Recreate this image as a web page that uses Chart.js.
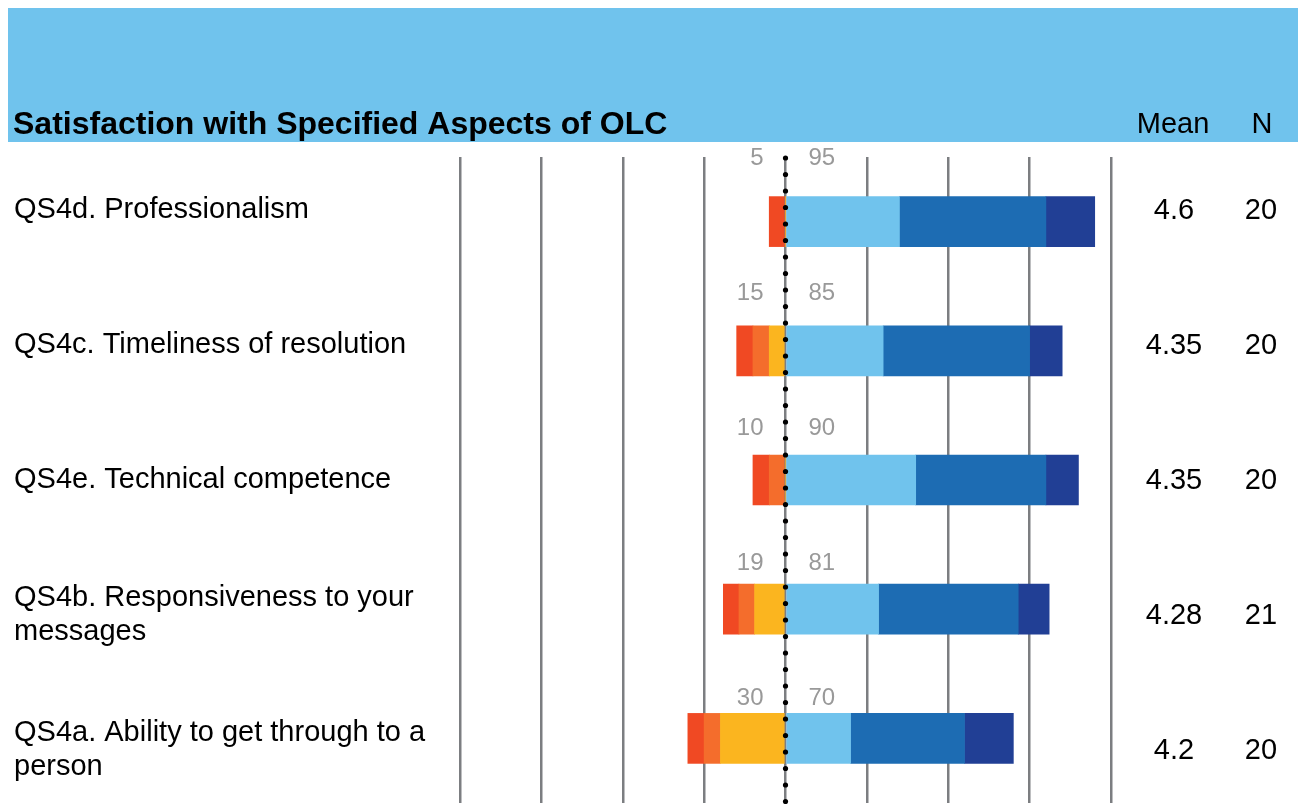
<!DOCTYPE html>
<html>
<head>
<meta charset="utf-8">
<script src="https://cdn.jsdelivr.net/npm/chart.js@4"></script>
<style>
    body { margin: 0; background: #fff; }
    #wrap { width: 1298px; height: 804px; position: relative; }
</style>
</head>
<body>
<div id="wrap"><canvas id="olcChart"></canvas></div>
<script>
// Datos del gráfico (porcentajes por nivel de satisfacción)
const categories = [
    ['QS4d. Professionalism'],
    ['QS4c. Timeliness of resolution'],
    ['QS4e. Technical competence'],
    ['QS4b. Responsiveness to your', 'messages'],
    ['QS4a. Ability to get through to a', 'person']
];
const level1 = [5, 5, 5, 4.8, 5];
const level2 = [0, 5, 5, 4.8, 5];
const level3 = [0, 5, 0, 9.5, 20];
const level4 = [35, 30, 40, 28.6, 20];
const level5 = [45, 45, 40, 42.9, 35];
const level6 = [15, 10, 10, 9.5, 15];
const negLabels = ['5', '15', '10', '19', '30'];
const posLabels = ['95', '85', '90', '81', '70'];
const means = ['4.6', '4.35', '4.35', '4.28', '4.2'];
const counts = ['20', '20', '20', '21', '20'];

const neg = arr => arr.map(v => -v);
const FONT = '"Liberation Sans", Arial, sans-serif';

// Cabecera, etiquetas y línea punteada en cero
const overlayPlugin = {
    id: 'overlay',
    beforeDraw(chart) {
        const ctx = chart.ctx;
        ctx.save();
        ctx.fillStyle = '#70c3ed';
        ctx.fillRect(8, 8, 1290, 134);
        ctx.fillStyle = '#000';
        ctx.textBaseline = 'alphabetic';
        ctx.font = 'bold 32px ' + FONT;
        ctx.textAlign = 'left';
        ctx.fillText('Satisfaction with Specified Aspects of OLC', 13, 134);
        ctx.font = '29px ' + FONT;
        ctx.textAlign = 'center';
        ctx.fillText('Mean', 1173, 133);
        ctx.fillText('N', 1262, 133);
        ctx.restore();
    },
    afterDatasetsDraw(chart) {
        const ctx = chart.ctx;
        const x0 = chart.scales.x.getPixelForValue(0);
        ctx.save();
        // puntos negros sobre la línea de cero
        ctx.fillStyle = '#000';
        for (let y = 158; y < 804; y += 16.5) {
            ctx.beginPath();
            ctx.arc(x0, y, 2.6, 0, Math.PI * 2);
            ctx.fill();
        }
        const rowTop = 142, rowH = 135;
        ctx.textBaseline = 'middle';
        categories.forEach((lines, i) => {
            const cy = rowTop + rowH * (i + 0.5);
            ctx.fillStyle = '#000';
            ctx.font = '29px ' + FONT;
            ctx.textAlign = 'left';
            const lh = 34;
            lines.forEach((t, j) => {
                ctx.fillText(t, 14, cy + (j - (lines.length - 1) / 2) * lh);
            });
            ctx.textAlign = 'center';
            ctx.fillText(means[i], 1174, cy + 1);
            ctx.fillText(counts[i], 1261, cy + 1);
            // totales negativos / positivos
            ctx.fillStyle = '#999';
            ctx.font = '24px ' + FONT;
            ctx.textAlign = 'right';
            ctx.fillText(negLabels[i], x0 - 22, rowTop + 16 + rowH * i);
            ctx.textAlign = 'left';
            ctx.fillText(posLabels[i], x0 + 23, rowTop + 16 + rowH * i);
        });
        ctx.restore();
    }
};

const ctx = document.getElementById('olcChart');
new Chart(ctx, {
    type: 'bar',
    data: {
        labels: categories,
        datasets: [
            { label: 'Level 3', data: neg(level3), backgroundColor: '#fbb51f' },
            { label: 'Level 2', data: neg(level2), backgroundColor: '#f46d2c' },
            { label: 'Level 1', data: neg(level1), backgroundColor: '#f04923' },
            { label: 'Level 4', data: level4, backgroundColor: '#70c3ed' },
            { label: 'Level 5', data: level5, backgroundColor: '#1d6cb3' },
            { label: 'Level 6', data: level6, backgroundColor: '#213f95' }
        ]
    },
    options: {
        indexAxis: 'y',
        responsive: true,
        maintainAspectRatio: false,
        animation: false,
        layout: {
            padding: { left: 460, right: 187, top: 157, bottom: 1 }
        },
        datasets: {
            bar: { barThickness: 50, borderWidth: 0 }
        },
        plugins: {
            legend: { display: false },
            tooltip: { enabled: false }
        },
        scales: {
            x: {
                stacked: true,
                min: -100,
                max: 100,
                ticks: { display: false, stepSize: 25 },
                grid: { color: '#7c7e81', lineWidth: 2.5, drawTicks: false },
                border: { display: false }
            },
            y: {
                stacked: true,
                display: false
            }
        }
    },
    plugins: [overlayPlugin]
});
</script>
</body>
</html>
